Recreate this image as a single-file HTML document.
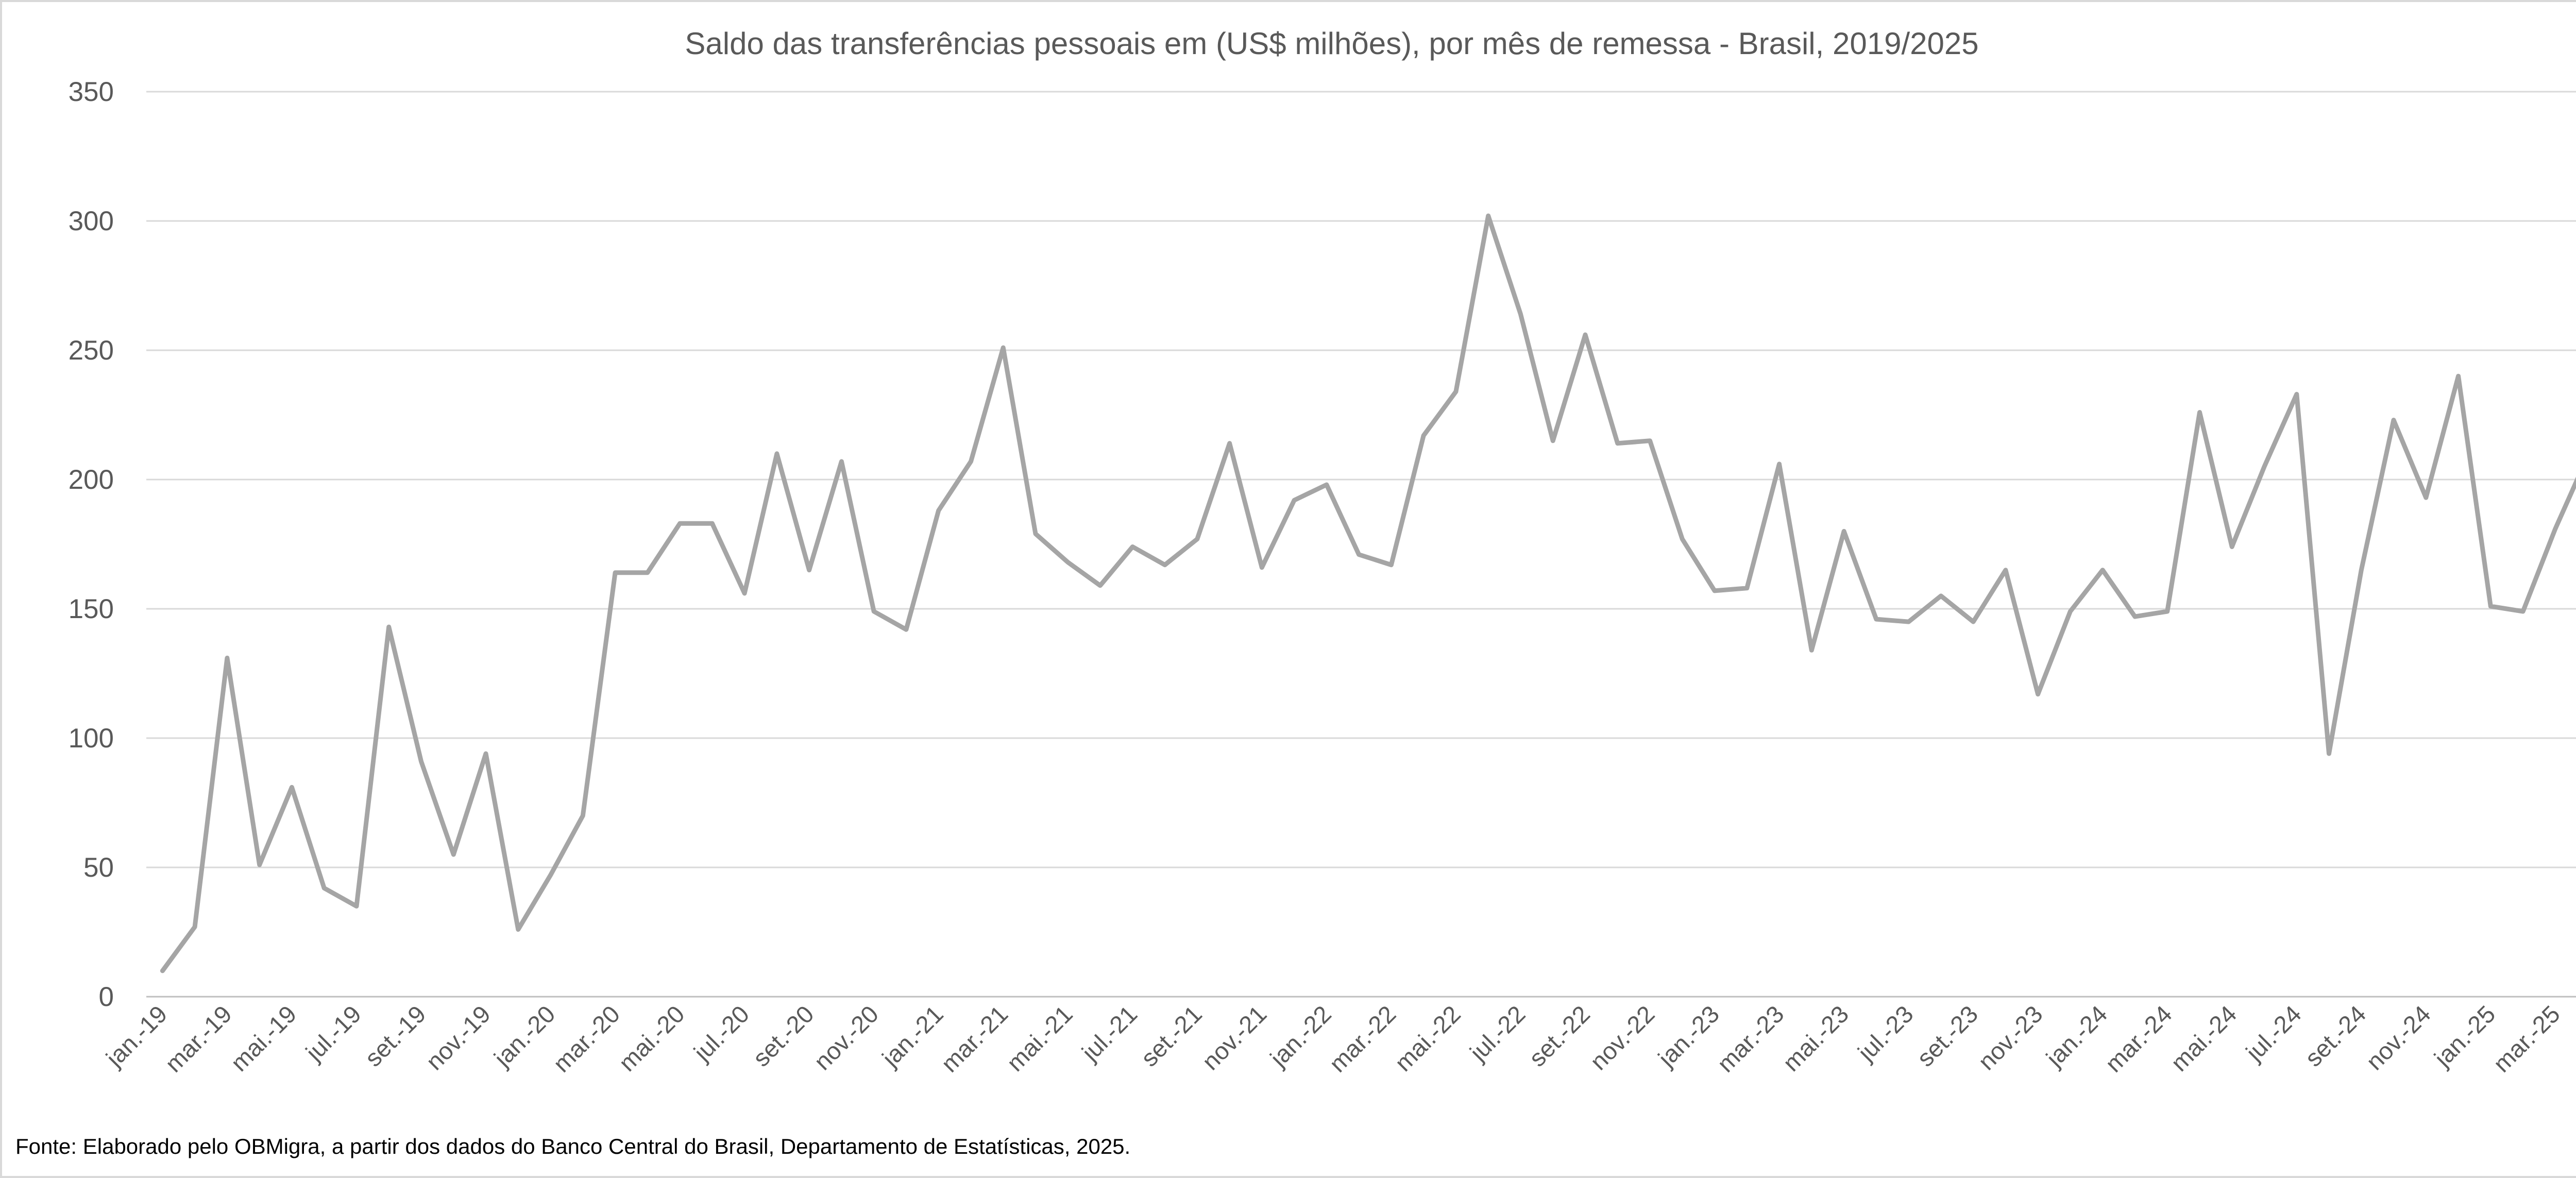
<!DOCTYPE html>
<html><head><meta charset="utf-8"><style>
html,body{margin:0;padding:0;background:#fff;}
svg{display:block;font-family:"Liberation Sans",sans-serif;}
</style></head><body>
<svg id="chart" width="5170" height="2287" viewBox="0 0 5170 2287">
<rect x="2" y="2" width="5166" height="2283" fill="#fff" stroke="#d9d9d9" stroke-width="4"/>
<text x="2585" y="105" text-anchor="middle" font-size="60" fill="#595959">Saldo das transferências pessoais em (US$ milhões), por mês de remessa - Brasil, 2019/2025</text>
<g id="grid"></g><g id="yticks"></g><g id="xticks"></g><g id="series"></g>
<text x="30" y="2240" font-size="42" fill="#000">Fonte:  Elaborado pelo OBMigra, a partir dos dados do Banco Central do Brasil, Departamento de Estatísticas, 2025.</text>
</svg>
<script>
const monthNames = ["jan.","fev.","mar.","abr.","mai.","jun.","jul.","ago.","set.","out.","nov.","dez."];
const years = ["19","20","21","22","23","24","25"];
const values = [10,27,131,51,81,42,35,143,91,55,94,26,
47,70,164,164,183,183,156,210,165,207,149,142,
188,207,251,179,168,159,174,167,177,214,166,192,
198,171,167,217,234,302,264,215,256,214,215,177,
157,158,206,134,180,146,145,155,145,165,117,149,
165,147,149,226,174,205,233,94,165,223,193,240,
151,149,181,209];
const yTicks = [0,50,100,150,200,250,300,350];
const NS="http://www.w3.org/2000/svg";
const L=284,R=5054,T=178,B=1935,yMax=350;
const n=values.length, step=(R-L)/n;
const xS=i=>L+(i+0.5)*step;
const yS=v=>B-(v/yMax)*(B-T);
function mk(tag,attrs,parent,txt){const e=document.createElementNS(NS,tag);for(const k in attrs)e.setAttribute(k,attrs[k]);if(txt!==undefined)e.textContent=txt;document.getElementById(parent).appendChild(e);return e;}
yTicks.forEach(t=>{
  const g=mk('line',{x1:L,x2:R,y1:yS(t),y2:yS(t),stroke:t===0?'#bfbfbf':'#d9d9d9','stroke-width':3},'grid');
  
  
  const lb=mk('text',{x:221,y:yS(t)+18,'text-anchor':'end','font-size':53,fill:'#595959'},'yticks',String(t));
  
  
});
for(let i=0;i<n;i+=2){
  const label=monthNames[i%12]+'-'+years[Math.floor(i/12)];
  const x=xS(i)+12, y=1972;
  const lb=mk('text',{x:x,y:y,'text-anchor':'end','font-size':47,fill:'#595959',transform:`rotate(-45 ${x} ${y})`},'xticks',label);
  
  
}
const pts=values.map((v,i)=>xS(i).toFixed(1)+','+yS(v).toFixed(1)).join(' ');
const pl=mk('polyline',{points:pts,fill:'none',stroke:'#a5a5a5','stroke-width':9,'stroke-linejoin':'round','stroke-linecap':'round'},'series');


</script>
</body></html>
